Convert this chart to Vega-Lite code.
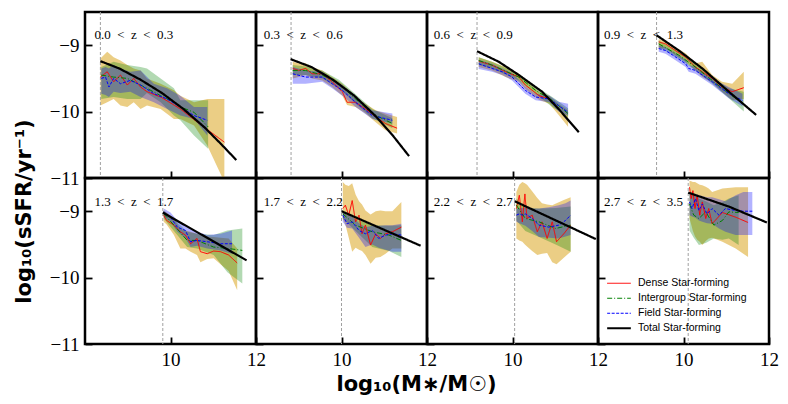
{
  "$schema": "https://vega.github.io/schema/vega-lite/v6.json",
  "padding": {"left": 11, "top": 10, "right": 5, "bottom": 2},
  "config": {
    "view": {"stroke": "black", "strokeWidth": 2.5},
    "axis": {
      "domain": false, "grid": false, "ticks": true, "zindex": 1, "offset": -7, "tickSize": 7, "tickWidth": 1.8, "tickColor": "black",
      "labelFont": "Liberation Serif", "labelFontSize": 19, "labelColor": "black", "labelPadding": 6,
      "labelFlush": false, "labelOverlap": false, "format": "d",
      "titleFont": "DejaVu Sans", "titleFontSize": 21, "titleFontWeight": "bold", "titleColor": "black"
    },
    "legend": {
      "orient": "bottom-left", "offset": 8, "padding": 0, "labelFont": "Liberation Sans", "labelFontSize": 10.5,
      "labelColor": "black", "symbolType": "stroke", "symbolSize": 560, "clipHeight": 14.5, "rowPadding": 0, "labelOffset": 6
    }
  },
  "datasets": {
    "m": [
      {"p": 1, "cut": 8.36, "lx": 8.22, "ly": -8.85, "label": "0.0\u2002<\u2002z\u2002<\u20020.3"},
      {"p": 2, "cut": 8.82, "lx": 8.18, "ly": -8.85, "label": "0.3\u2002<\u2002z\u2002<\u20020.6"},
      {"p": 3, "cut": 9.17, "lx": 8.16, "ly": -8.85, "label": "0.6\u2002<\u2002z\u2002<\u20020.9"},
      {"p": 4, "cut": 9.37, "lx": 8.14, "ly": -8.85, "label": "0.9\u2002<\u2002z\u2002<\u20021.3"},
      {"p": 5, "cut": 9.82, "lx": 8.22, "ly": -8.86, "label": "1.3\u2002<\u2002z\u2002<\u20021.7"},
      {"p": 6, "cut": 10.0, "lx": 8.18, "ly": -8.86, "label": "1.7\u2002<\u2002z\u2002<\u20022.2"},
      {"p": 7, "cut": 10.05, "lx": 8.16, "ly": -8.86, "label": "2.2\u2002<\u2002z\u2002<\u20022.7"},
      {"p": 8, "cut": 10.11, "lx": 8.14, "ly": -8.86, "label": "2.7\u2002<\u2002z\u2002<\u20023.5"}
    ],
    "d": [
      {"p":1,"s":"Dense","x":8.36,"y":-9.48,"lo":-9.91,"hi":-9.20},
      {"p":1,"s":"Dense","x":8.52,"y":-9.40,"lo":-9.86,"hi":-9.10},
      {"p":1,"s":"Dense","x":8.67,"y":-9.55,"lo":-9.81,"hi":-9.18},
      {"p":1,"s":"Dense","x":8.83,"y":-9.45,"lo":-9.91,"hi":-9.23},
      {"p":1,"s":"Dense","x":8.99,"y":-9.60,"lo":-9.93,"hi":-9.30},
      {"p":1,"s":"Dense","x":9.14,"y":-9.50,"lo":-9.86,"hi":-9.35},
      {"p":1,"s":"Dense","x":9.30,"y":-9.63,"lo":-9.96,"hi":-9.38},
      {"p":1,"s":"Dense","x":9.45,"y":-9.70,"lo":-9.91,"hi":-9.50},
      {"p":1,"s":"Dense","x":9.77,"y":-9.78,"lo":-9.96,"hi":-9.58},
      {"p":1,"s":"Dense","x":10.08,"y":-9.90,"lo":-10.11,"hi":-9.68},
      {"p":1,"s":"Dense","x":10.23,"y":-9.96,"lo":-10.11,"hi":-9.76},
      {"p":1,"s":"Dense","x":10.55,"y":-10.12,"lo":-10.21,"hi":-9.86},
      {"p":1,"s":"Dense","x":10.86,"y":-10.27,"lo":-10.51,"hi":-9.81},
      {"p":1,"s":"Dense","x":11.26,"y":-10.46,"lo":-11.06,"hi":-9.81},
      {"p":1,"s":"Intergroup","x":8.38,"y":-9.45,"lo":-9.81,"hi":-9.33},
      {"p":1,"s":"Intergroup","x":8.67,"y":-9.48,"lo":-9.78,"hi":-9.25},
      {"p":1,"s":"Intergroup","x":8.99,"y":-9.50,"lo":-9.81,"hi":-9.30},
      {"p":1,"s":"Intergroup","x":9.30,"y":-9.60,"lo":-9.81,"hi":-9.33},
      {"p":1,"s":"Intergroup","x":9.45,"y":-9.65,"lo":-9.72,"hi":-9.35},
      {"p":1,"s":"Intergroup","x":9.77,"y":-9.76,"lo":-9.86,"hi":-9.50},
      {"p":1,"s":"Intergroup","x":10.08,"y":-9.86,"lo":-10.06,"hi":-9.65},
      {"p":1,"s":"Intergroup","x":10.23,"y":-9.93,"lo":-10.13,"hi":-9.83},
      {"p":1,"s":"Intergroup","x":10.55,"y":-10.01,"lo":-10.36,"hi":-9.83},
      {"p":1,"s":"Intergroup","x":10.88,"y":-10.23,"lo":-10.56,"hi":-9.83},
      {"p":1,"s":"Field","x":8.38,"y":-9.50,"lo":-9.73,"hi":-9.35},
      {"p":1,"s":"Field","x":8.48,"y":-9.48,"lo":-9.75,"hi":-9.33},
      {"p":1,"s":"Field","x":8.56,"y":-9.63,"lo":-9.78,"hi":-9.35},
      {"p":1,"s":"Field","x":8.67,"y":-9.50,"lo":-9.70,"hi":-9.30},
      {"p":1,"s":"Field","x":8.83,"y":-9.58,"lo":-9.72,"hi":-9.35},
      {"p":1,"s":"Field","x":9.06,"y":-9.53,"lo":-9.70,"hi":-9.40},
      {"p":1,"s":"Field","x":9.30,"y":-9.60,"lo":-9.78,"hi":-9.38},
      {"p":1,"s":"Field","x":9.61,"y":-9.73,"lo":-9.86,"hi":-9.58},
      {"p":1,"s":"Field","x":9.92,"y":-9.81,"lo":-9.96,"hi":-9.65},
      {"p":1,"s":"Field","x":10.23,"y":-9.93,"lo":-10.06,"hi":-9.76},
      {"p":1,"s":"Field","x":10.55,"y":-10.06,"lo":-10.11,"hi":-9.93},
      {"p":1,"s":"Field","x":10.86,"y":-10.13,"lo":-10.36,"hi":-9.93},
      {"p":1,"s":"Total","x":8.36,"y":-9.24},
      {"p":1,"s":"Total","x":8.8,"y":-9.35},
      {"p":1,"s":"Total","x":9.3,"y":-9.52},
      {"p":1,"s":"Total","x":9.8,"y":-9.72},
      {"p":1,"s":"Total","x":10.3,"y":-9.96},
      {"p":1,"s":"Total","x":10.8,"y":-10.24},
      {"p":1,"s":"Total","x":11.2,"y":-10.50},
      {"p":1,"s":"Total","x":11.54,"y":-10.73},

      {"p":2,"s":"Dense","x":8.86,"y":-9.35,"lo":-9.50,"hi":-9.25},
      {"p":2,"s":"Dense","x":9.00,"y":-9.38,"lo":-9.48,"hi":-9.27},
      {"p":2,"s":"Dense","x":9.16,"y":-9.35,"lo":-9.45,"hi":-9.27},
      {"p":2,"s":"Dense","x":9.31,"y":-9.43,"lo":-9.50,"hi":-9.33},
      {"p":2,"s":"Dense","x":9.55,"y":-9.43,"lo":-9.53,"hi":-9.38},
      {"p":2,"s":"Dense","x":9.78,"y":-9.55,"lo":-9.63,"hi":-9.48},
      {"p":2,"s":"Dense","x":10.02,"y":-9.70,"lo":-9.76,"hi":-9.58},
      {"p":2,"s":"Dense","x":10.13,"y":-9.86,"lo":-9.90,"hi":-9.65},
      {"p":2,"s":"Dense","x":10.33,"y":-9.86,"lo":-9.93,"hi":-9.78},
      {"p":2,"s":"Dense","x":10.56,"y":-9.96,"lo":-10.03,"hi":-9.88},
      {"p":2,"s":"Dense","x":10.80,"y":-10.08,"lo":-10.16,"hi":-9.98},
      {"p":2,"s":"Dense","x":11.03,"y":-10.18,"lo":-10.28,"hi":-10.03},
      {"p":2,"s":"Dense","x":11.30,"y":-10.25,"lo":-10.33,"hi":-10.08},
      {"p":2,"s":"Intergroup","x":8.86,"y":-9.38,"lo":-9.45,"hi":-9.30},
      {"p":2,"s":"Intergroup","x":9.16,"y":-9.38,"lo":-9.45,"hi":-9.32},
      {"p":2,"s":"Intergroup","x":9.55,"y":-9.45,"lo":-9.50,"hi":-9.38},
      {"p":2,"s":"Intergroup","x":9.94,"y":-9.58,"lo":-9.65,"hi":-9.52},
      {"p":2,"s":"Intergroup","x":10.33,"y":-9.81,"lo":-9.88,"hi":-9.74},
      {"p":2,"s":"Intergroup","x":10.72,"y":-10.03,"lo":-10.10,"hi":-9.96},
      {"p":2,"s":"Intergroup","x":11.19,"y":-10.18,"lo":-10.25,"hi":-10.10},
      {"p":2,"s":"Field","x":8.86,"y":-9.43,"lo":-9.58,"hi":-9.33},
      {"p":2,"s":"Field","x":9.16,"y":-9.48,"lo":-9.58,"hi":-9.38},
      {"p":2,"s":"Field","x":9.55,"y":-9.48,"lo":-9.55,"hi":-9.40},
      {"p":2,"s":"Field","x":9.78,"y":-9.58,"lo":-9.65,"hi":-9.50},
      {"p":2,"s":"Field","x":10.02,"y":-9.68,"lo":-9.76,"hi":-9.60},
      {"p":2,"s":"Field","x":10.33,"y":-9.86,"lo":-9.93,"hi":-9.78},
      {"p":2,"s":"Field","x":10.72,"y":-10.06,"lo":-10.11,"hi":-9.98},
      {"p":2,"s":"Field","x":11.19,"y":-10.13,"lo":-10.18,"hi":-10.03},
      {"p":2,"s":"Total","x":8.81,"y":-9.21},
      {"p":2,"s":"Total","x":9.3,"y":-9.33},
      {"p":2,"s":"Total","x":9.8,"y":-9.52},
      {"p":2,"s":"Total","x":10.3,"y":-9.76},
      {"p":2,"s":"Total","x":10.8,"y":-10.07},
      {"p":2,"s":"Total","x":11.2,"y":-10.36},
      {"p":2,"s":"Total","x":11.58,"y":-10.67},

      {"p":3,"s":"Dense","x":9.21,"y":-9.24,"lo":-9.33,"hi":-9.18},
      {"p":3,"s":"Dense","x":9.52,"y":-9.30,"lo":-9.38,"hi":-9.25},
      {"p":3,"s":"Dense","x":9.84,"y":-9.40,"lo":-9.48,"hi":-9.33},
      {"p":3,"s":"Dense","x":10.15,"y":-9.48,"lo":-9.55,"hi":-9.43},
      {"p":3,"s":"Dense","x":10.30,"y":-9.60,"lo":-9.66,"hi":-9.52},
      {"p":3,"s":"Dense","x":10.62,"y":-9.76,"lo":-9.82,"hi":-9.70},
      {"p":3,"s":"Dense","x":10.86,"y":-9.81,"lo":-9.88,"hi":-9.76},
      {"p":3,"s":"Dense","x":11.08,"y":-9.96,"lo":-10.05,"hi":-9.88},
      {"p":3,"s":"Dense","x":11.30,"y":-10.13,"lo":-10.23,"hi":-9.98},
      {"p":3,"s":"Intergroup","x":9.21,"y":-9.23,"lo":-9.30,"hi":-9.18},
      {"p":3,"s":"Intergroup","x":9.52,"y":-9.30,"lo":-9.35,"hi":-9.25},
      {"p":3,"s":"Intergroup","x":10.15,"y":-9.48,"lo":-9.53,"hi":-9.43},
      {"p":3,"s":"Intergroup","x":10.54,"y":-9.68,"lo":-9.73,"hi":-9.62},
      {"p":3,"s":"Intergroup","x":10.93,"y":-9.83,"lo":-9.93,"hi":-9.78},
      {"p":3,"s":"Intergroup","x":11.30,"y":-10.03,"lo":-10.08,"hi":-9.95},
      {"p":3,"s":"Field","x":9.21,"y":-9.28,"lo":-9.36,"hi":-9.22},
      {"p":3,"s":"Field","x":9.52,"y":-9.35,"lo":-9.40,"hi":-9.28},
      {"p":3,"s":"Field","x":9.76,"y":-9.40,"lo":-9.45,"hi":-9.35},
      {"p":3,"s":"Field","x":9.99,"y":-9.48,"lo":-9.53,"hi":-9.42},
      {"p":3,"s":"Field","x":10.30,"y":-9.68,"lo":-9.73,"hi":-9.62},
      {"p":3,"s":"Field","x":10.54,"y":-9.78,"lo":-9.83,"hi":-9.73},
      {"p":3,"s":"Field","x":10.86,"y":-9.81,"lo":-9.86,"hi":-9.76},
      {"p":3,"s":"Field","x":11.08,"y":-9.91,"lo":-10.00,"hi":-9.85},
      {"p":3,"s":"Field","x":11.30,"y":-10.01,"lo":-10.06,"hi":-9.88},
      {"p":3,"s":"Total","x":9.17,"y":-9.09},
      {"p":3,"s":"Total","x":9.68,"y":-9.25},
      {"p":3,"s":"Total","x":10.15,"y":-9.45},
      {"p":3,"s":"Total","x":10.69,"y":-9.70},
      {"p":3,"s":"Total","x":11.08,"y":-9.96},
      {"p":3,"s":"Total","x":11.55,"y":-10.31},

      {"p":4,"s":"Dense","x":9.42,"y":-8.95,"lo":-9.05,"hi":-8.91},
      {"p":4,"s":"Dense","x":9.58,"y":-8.98,"lo":-9.05,"hi":-8.93},
      {"p":4,"s":"Dense","x":9.81,"y":-9.08,"lo":-9.15,"hi":-9.03},
      {"p":4,"s":"Dense","x":10.05,"y":-9.18,"lo":-9.25,"hi":-9.12},
      {"p":4,"s":"Dense","x":10.28,"y":-9.33,"lo":-9.38,"hi":-9.27},
      {"p":4,"s":"Dense","x":10.44,"y":-9.40,"lo":-9.48,"hi":-9.25},
      {"p":4,"s":"Dense","x":10.67,"y":-9.50,"lo":-9.56,"hi":-9.45},
      {"p":4,"s":"Dense","x":10.90,"y":-9.63,"lo":-9.70,"hi":-9.55},
      {"p":4,"s":"Dense","x":11.14,"y":-9.70,"lo":-9.83,"hi":-9.58},
      {"p":4,"s":"Dense","x":11.41,"y":-9.64,"lo":-9.81,"hi":-9.40},
      {"p":4,"s":"Intergroup","x":9.42,"y":-8.98,"lo":-9.03,"hi":-8.93},
      {"p":4,"s":"Intergroup","x":9.89,"y":-9.15,"lo":-9.20,"hi":-9.10},
      {"p":4,"s":"Intergroup","x":10.28,"y":-9.33,"lo":-9.38,"hi":-9.28},
      {"p":4,"s":"Intergroup","x":10.67,"y":-9.53,"lo":-9.58,"hi":-9.48},
      {"p":4,"s":"Intergroup","x":11.06,"y":-9.73,"lo":-9.80,"hi":-9.65},
      {"p":4,"s":"Intergroup","x":11.41,"y":-9.88,"lo":-10.00,"hi":-9.70},
      {"p":4,"s":"Field","x":9.42,"y":-9.05,"lo":-9.10,"hi":-9.00},
      {"p":4,"s":"Field","x":9.58,"y":-9.08,"lo":-9.13,"hi":-9.03},
      {"p":4,"s":"Field","x":9.75,"y":-9.15,"lo":-9.20,"hi":-9.10},
      {"p":4,"s":"Field","x":10.05,"y":-9.28,"lo":-9.33,"hi":-9.22},
      {"p":4,"s":"Field","x":10.12,"y":-9.35,"lo":-9.40,"hi":-9.30},
      {"p":4,"s":"Field","x":10.28,"y":-9.38,"lo":-9.43,"hi":-9.33},
      {"p":4,"s":"Field","x":10.67,"y":-9.55,"lo":-9.60,"hi":-9.50},
      {"p":4,"s":"Field","x":11.06,"y":-9.73,"lo":-9.80,"hi":-9.63},
      {"p":4,"s":"Field","x":11.38,"y":-9.83,"lo":-9.92,"hi":-9.73},
      {"p":4,"s":"Total","x":9.37,"y":-8.85},
      {"p":4,"s":"Total","x":9.89,"y":-9.08},
      {"p":4,"s":"Total","x":10.44,"y":-9.35},
      {"p":4,"s":"Total","x":11.06,"y":-9.70},
      {"p":4,"s":"Total","x":11.70,"y":-10.05},

      {"p":5,"s":"Dense","x":9.84,"y":-9.06,"lo":-9.16,"hi":-8.99},
      {"p":5,"s":"Dense","x":9.91,"y":-9.14,"lo":-9.20,"hi":-9.02},
      {"p":5,"s":"Dense","x":10.08,"y":-9.21,"lo":-9.36,"hi":-9.11},
      {"p":5,"s":"Dense","x":10.23,"y":-9.31,"lo":-9.56,"hi":-9.26},
      {"p":5,"s":"Dense","x":10.35,"y":-9.36,"lo":-9.56,"hi":-9.29},
      {"p":5,"s":"Dense","x":10.47,"y":-9.49,"lo":-9.61,"hi":-9.31},
      {"p":5,"s":"Dense","x":10.62,"y":-9.41,"lo":-9.66,"hi":-9.34},
      {"p":5,"s":"Dense","x":10.70,"y":-9.61,"lo":-9.77,"hi":-9.36},
      {"p":5,"s":"Dense","x":10.86,"y":-9.64,"lo":-9.72,"hi":-9.38},
      {"p":5,"s":"Dense","x":11.01,"y":-9.60,"lo":-9.71,"hi":-9.39},
      {"p":5,"s":"Dense","x":11.17,"y":-9.61,"lo":-9.80,"hi":-9.40},
      {"p":5,"s":"Dense","x":11.36,"y":-9.66,"lo":-9.90,"hi":-9.41},
      {"p":5,"s":"Dense","x":11.56,"y":-9.78,"lo":-10.19,"hi":-9.56},
      {"p":5,"s":"Intergroup","x":9.84,"y":-9.04,"lo":-9.11,"hi":-8.99},
      {"p":5,"s":"Intergroup","x":10.08,"y":-9.21,"lo":-9.30,"hi":-9.12},
      {"p":5,"s":"Intergroup","x":10.39,"y":-9.44,"lo":-9.54,"hi":-9.31},
      {"p":5,"s":"Intergroup","x":10.62,"y":-9.44,"lo":-9.56,"hi":-9.34},
      {"p":5,"s":"Intergroup","x":11.01,"y":-9.54,"lo":-9.66,"hi":-9.36},
      {"p":5,"s":"Intergroup","x":11.33,"y":-9.56,"lo":-9.92,"hi":-9.29},
      {"p":5,"s":"Intergroup","x":11.68,"y":-9.59,"lo":-10.09,"hi":-9.26},
      {"p":5,"s":"Field","x":9.84,"y":-9.01,"lo":-9.09,"hi":-8.96},
      {"p":5,"s":"Field","x":10.00,"y":-9.09,"lo":-9.16,"hi":-9.02},
      {"p":5,"s":"Field","x":10.16,"y":-9.24,"lo":-9.31,"hi":-9.14},
      {"p":5,"s":"Field","x":10.35,"y":-9.29,"lo":-9.41,"hi":-9.21},
      {"p":5,"s":"Field","x":10.47,"y":-9.46,"lo":-9.54,"hi":-9.26},
      {"p":5,"s":"Field","x":10.62,"y":-9.44,"lo":-9.52,"hi":-9.31},
      {"p":5,"s":"Field","x":10.86,"y":-9.46,"lo":-9.56,"hi":-9.36},
      {"p":5,"s":"Field","x":11.17,"y":-9.49,"lo":-9.59,"hi":-9.34},
      {"p":5,"s":"Field","x":11.44,"y":-9.49,"lo":-9.64,"hi":-9.29},
      {"p":5,"s":"Total","x":9.82,"y":-9.02},
      {"p":5,"s":"Total","x":11.78,"y":-9.74},

      {"p":6,"s":"Dense","x":10.03,"y":-8.96,"lo":-9.11,"hi":-8.56},
      {"p":6,"s":"Dense","x":10.09,"y":-8.91,"lo":-9.20,"hi":-8.60},
      {"p":6,"s":"Dense","x":10.17,"y":-9.06,"lo":-9.40,"hi":-8.62},
      {"p":6,"s":"Dense","x":10.25,"y":-8.84,"lo":-9.61,"hi":-8.58},
      {"p":6,"s":"Dense","x":10.33,"y":-9.16,"lo":-9.55,"hi":-8.75},
      {"p":6,"s":"Dense","x":10.41,"y":-9.06,"lo":-9.58,"hi":-8.85},
      {"p":6,"s":"Dense","x":10.48,"y":-9.34,"lo":-9.60,"hi":-8.90},
      {"p":6,"s":"Dense","x":10.56,"y":-9.21,"lo":-9.66,"hi":-8.99},
      {"p":6,"s":"Dense","x":10.68,"y":-9.51,"lo":-9.79,"hi":-9.05},
      {"p":6,"s":"Dense","x":10.80,"y":-9.34,"lo":-9.70,"hi":-9.00},
      {"p":6,"s":"Dense","x":10.91,"y":-9.41,"lo":-9.69,"hi":-8.99},
      {"p":6,"s":"Dense","x":11.03,"y":-9.34,"lo":-9.64,"hi":-9.00},
      {"p":6,"s":"Dense","x":11.19,"y":-9.31,"lo":-9.56,"hi":-9.00},
      {"p":6,"s":"Dense","x":11.40,"y":-9.24,"lo":-9.56,"hi":-8.86},
      {"p":6,"s":"Intergroup","x":10.03,"y":-9.04,"lo":-9.11,"hi":-8.99},
      {"p":6,"s":"Intergroup","x":10.33,"y":-9.21,"lo":-9.30,"hi":-9.12},
      {"p":6,"s":"Intergroup","x":10.72,"y":-9.31,"lo":-9.54,"hi":-9.21},
      {"p":6,"s":"Intergroup","x":11.11,"y":-9.36,"lo":-9.60,"hi":-9.22},
      {"p":6,"s":"Intergroup","x":11.40,"y":-9.44,"lo":-9.69,"hi":-9.21},
      {"p":6,"s":"Field","x":10.03,"y":-9.06,"lo":-9.16,"hi":-8.99},
      {"p":6,"s":"Field","x":10.13,"y":-9.19,"lo":-9.25,"hi":-9.06},
      {"p":6,"s":"Field","x":10.25,"y":-9.16,"lo":-9.26,"hi":-9.08},
      {"p":6,"s":"Field","x":10.41,"y":-9.29,"lo":-9.40,"hi":-9.18},
      {"p":6,"s":"Field","x":10.56,"y":-9.34,"lo":-9.54,"hi":-9.24},
      {"p":6,"s":"Field","x":10.72,"y":-9.29,"lo":-9.50,"hi":-9.22},
      {"p":6,"s":"Field","x":10.87,"y":-9.41,"lo":-9.55,"hi":-9.22},
      {"p":6,"s":"Field","x":11.03,"y":-9.36,"lo":-9.58,"hi":-9.21},
      {"p":6,"s":"Field","x":11.19,"y":-9.34,"lo":-9.61,"hi":-9.21},
      {"p":6,"s":"Field","x":11.40,"y":-9.36,"lo":-9.61,"hi":-9.19},
      {"p":6,"s":"Total","x":10.0,"y":-9.0},
      {"p":6,"s":"Total","x":11.85,"y":-9.52},

      {"p":7,"s":"Dense","x":10.09,"y":-8.96,"lo":-9.41,"hi":-8.71},
      {"p":7,"s":"Dense","x":10.16,"y":-8.76,"lo":-9.44,"hi":-8.60},
      {"p":7,"s":"Dense","x":10.23,"y":-9.16,"lo":-9.46,"hi":-8.56},
      {"p":7,"s":"Dense","x":10.29,"y":-8.74,"lo":-9.50,"hi":-8.58},
      {"p":7,"s":"Dense","x":10.34,"y":-9.11,"lo":-9.53,"hi":-8.60},
      {"p":7,"s":"Dense","x":10.46,"y":-9.06,"lo":-9.60,"hi":-8.70},
      {"p":7,"s":"Dense","x":10.58,"y":-9.31,"lo":-9.66,"hi":-8.80},
      {"p":7,"s":"Dense","x":10.69,"y":-9.16,"lo":-9.64,"hi":-8.88},
      {"p":7,"s":"Dense","x":10.81,"y":-9.41,"lo":-9.63,"hi":-8.90},
      {"p":7,"s":"Dense","x":10.93,"y":-9.16,"lo":-9.77,"hi":-8.91},
      {"p":7,"s":"Dense","x":11.03,"y":-9.46,"lo":-9.80,"hi":-8.88},
      {"p":7,"s":"Dense","x":11.20,"y":-9.34,"lo":-9.70,"hi":-8.83},
      {"p":7,"s":"Dense","x":11.36,"y":-9.21,"lo":-9.61,"hi":-8.79},
      {"p":7,"s":"Intergroup","x":10.09,"y":-8.91,"lo":-9.14,"hi":-8.81},
      {"p":7,"s":"Intergroup","x":10.30,"y":-9.11,"lo":-9.30,"hi":-8.95},
      {"p":7,"s":"Intergroup","x":10.62,"y":-9.16,"lo":-9.39,"hi":-8.96},
      {"p":7,"s":"Intergroup","x":11.01,"y":-9.26,"lo":-9.50,"hi":-8.95},
      {"p":7,"s":"Intergroup","x":11.36,"y":-9.21,"lo":-9.61,"hi":-8.93},
      {"p":7,"s":"Field","x":10.09,"y":-9.06,"lo":-9.16,"hi":-8.96},
      {"p":7,"s":"Field","x":10.16,"y":-9.04,"lo":-9.18,"hi":-8.95},
      {"p":7,"s":"Field","x":10.23,"y":-9.06,"lo":-9.20,"hi":-8.95},
      {"p":7,"s":"Field","x":10.30,"y":-9.04,"lo":-9.22,"hi":-8.94},
      {"p":7,"s":"Field","x":10.46,"y":-9.11,"lo":-9.30,"hi":-8.96},
      {"p":7,"s":"Field","x":10.62,"y":-9.21,"lo":-9.39,"hi":-8.96},
      {"p":7,"s":"Field","x":10.85,"y":-9.24,"lo":-9.40,"hi":-8.94},
      {"p":7,"s":"Field","x":11.08,"y":-9.21,"lo":-9.41,"hi":-8.91},
      {"p":7,"s":"Field","x":11.24,"y":-9.14,"lo":-9.38,"hi":-8.88},
      {"p":7,"s":"Field","x":11.36,"y":-9.06,"lo":-9.36,"hi":-8.84},
      {"p":7,"s":"Total","x":10.05,"y":-8.85},
      {"p":7,"s":"Total","x":11.95,"y":-9.42},

      {"p":8,"s":"Dense","x":10.14,"y":-8.64,"lo":-9.11,"hi":-8.54},
      {"p":8,"s":"Dense","x":10.18,"y":-8.81,"lo":-9.20,"hi":-8.55},
      {"p":8,"s":"Dense","x":10.22,"y":-8.69,"lo":-9.30,"hi":-8.56},
      {"p":8,"s":"Dense","x":10.27,"y":-8.96,"lo":-9.38,"hi":-8.56},
      {"p":8,"s":"Dense","x":10.32,"y":-8.76,"lo":-9.43,"hi":-8.58},
      {"p":8,"s":"Dense","x":10.38,"y":-9.06,"lo":-9.46,"hi":-8.60},
      {"p":8,"s":"Dense","x":10.44,"y":-8.86,"lo":-9.51,"hi":-8.61},
      {"p":8,"s":"Dense","x":10.52,"y":-9.11,"lo":-9.45,"hi":-8.63},
      {"p":8,"s":"Dense","x":10.59,"y":-8.96,"lo":-9.41,"hi":-8.66},
      {"p":8,"s":"Dense","x":10.67,"y":-9.19,"lo":-9.40,"hi":-8.71},
      {"p":8,"s":"Dense","x":10.91,"y":-9.02,"lo":-9.46,"hi":-8.66},
      {"p":8,"s":"Dense","x":11.22,"y":-9.09,"lo":-9.56,"hi":-8.64},
      {"p":8,"s":"Dense","x":11.51,"y":-9.17,"lo":-9.69,"hi":-8.64},
      {"p":8,"s":"Intergroup","x":10.14,"y":-8.89,"lo":-9.29,"hi":-8.71},
      {"p":8,"s":"Intergroup","x":10.24,"y":-9.06,"lo":-9.40,"hi":-8.76},
      {"p":8,"s":"Intergroup","x":10.36,"y":-9.11,"lo":-9.51,"hi":-8.81},
      {"p":8,"s":"Intergroup","x":10.52,"y":-9.01,"lo":-9.48,"hi":-8.85},
      {"p":8,"s":"Intergroup","x":10.71,"y":-9.21,"lo":-9.41,"hi":-8.91},
      {"p":8,"s":"Intergroup","x":10.91,"y":-9.14,"lo":-9.43,"hi":-8.86},
      {"p":8,"s":"Intergroup","x":11.06,"y":-9.01,"lo":-9.41,"hi":-8.81},
      {"p":8,"s":"Intergroup","x":11.29,"y":-9.02,"lo":-9.51,"hi":-8.76},
      {"p":8,"s":"Field","x":10.14,"y":-8.86,"lo":-9.06,"hi":-8.71},
      {"p":8,"s":"Field","x":10.20,"y":-8.96,"lo":-9.08,"hi":-8.73},
      {"p":8,"s":"Field","x":10.28,"y":-8.81,"lo":-9.10,"hi":-8.74},
      {"p":8,"s":"Field","x":10.36,"y":-8.99,"lo":-9.14,"hi":-8.76},
      {"p":8,"s":"Field","x":10.44,"y":-8.89,"lo":-9.16,"hi":-8.77},
      {"p":8,"s":"Field","x":10.55,"y":-9.04,"lo":-9.18,"hi":-8.79},
      {"p":8,"s":"Field","x":10.67,"y":-8.96,"lo":-9.19,"hi":-8.79},
      {"p":8,"s":"Field","x":10.83,"y":-9.06,"lo":-9.26,"hi":-8.82},
      {"p":8,"s":"Field","x":10.98,"y":-8.96,"lo":-9.31,"hi":-8.85},
      {"p":8,"s":"Field","x":11.22,"y":-8.99,"lo":-9.36,"hi":-8.76},
      {"p":8,"s":"Field","x":11.40,"y":-9.00,"lo":-9.36,"hi":-8.71},
      {"p":8,"s":"Field","x":11.61,"y":-9.00,"lo":-9.36,"hi":-8.71},
      {"p":8,"s":"Total","x":10.11,"y":-8.72},
      {"p":8,"s":"Total","x":11.06,"y":-8.93},
      {"p":8,"s":"Total","x":11.95,"y":-9.17}
    ]
  },
  "columns": 4,
  "spacing": 0,
  "bounds": "flush",
  "resolve": {
    "scale": {"x": "independent", "y": "independent", "color": "independent", "strokeDash": "independent", "strokeWidth": "independent"},
    "axis": {"x": "independent", "y": "independent"},
    "legend": {"color": "independent", "strokeDash": "independent", "strokeWidth": "independent"}
  },
  "concat": [
    {
      "width": 171, "height": 166,
      "layer": [
        {"data": {"name": "d"}, "transform": [{"filter": "datum.p == 1 && datum.s == 'Dense'"}], "mark": {"type": "area", "color": "#daa520", "opacity": 0.55, "clip": true},
         "encoding": {
           "x": {"field": "x", "type": "quantitative", "scale": {"domain": [8, 12], "nice": false, "zero": false}, "axis": {"values": [10, 12], "labels": false, "title": null}},
           "y": {"field": "lo", "type": "quantitative", "scale": {"domain": [-11, -8.5], "nice": false, "zero": false}, "axis": {"values": [-11, -10, -9], "title": "log₁₀(sSFR/yr⁻¹)", "titleX": -68, "titleY": 199, "titleAngle": 270, "titleBaseline": "middle", "titleAlign": "center"}},
           "y2": {"field": "hi"}}},
        {"data": {"name": "d"}, "transform": [{"filter": "datum.p == 1 && datum.s == 'Intergroup'"}], "mark": {"type": "area", "color": "#008000", "opacity": 0.3, "clip": true},
         "encoding": {"x": {"field": "x", "type": "quantitative"}, "y": {"field": "lo", "type": "quantitative"}, "y2": {"field": "hi"}}},
        {"data": {"name": "d"}, "transform": [{"filter": "datum.p == 1 && datum.s == 'Field'"}], "mark": {"type": "area", "color": "#0000ff", "opacity": 0.3, "clip": true},
         "encoding": {"x": {"field": "x", "type": "quantitative"}, "y": {"field": "lo", "type": "quantitative"}, "y2": {"field": "hi"}}},
        {"data": {"name": "m"}, "transform": [{"filter": "datum.p == 1"}], "mark": {"type": "rule", "color": "#a0a0a0", "strokeDash": [3, 2], "strokeWidth": 1}, "encoding": {"x": {"field": "cut", "type": "quantitative"}}},
        {"data": {"name": "d"}, "transform": [{"filter": "datum.p == 1"}], "mark": {"type": "line", "clip": true},
         "encoding": {
           "x": {"field": "x", "type": "quantitative"}, "y": {"field": "y", "type": "quantitative"},
           "color": {"field": "s", "type": "nominal", "scale": {"domain": ["Dense", "Intergroup", "Field", "Total"], "range": ["#ff0000", "#008000", "#0000ff", "#000000"]}, "legend": null},
           "strokeDash": {"field": "s", "type": "nominal", "scale": {"domain": ["Dense", "Intergroup", "Field", "Total"], "range": [[1, 0], [5, 2, 1, 2], [3, 1.5], [1, 0]]}, "legend": null},
           "strokeWidth": {"field": "s", "type": "nominal", "scale": {"type": "ordinal", "domain": ["Dense", "Intergroup", "Field", "Total"], "range": [1, 1, 1, 2.2]}, "legend": null}}},
        {"data": {"name": "m"}, "transform": [{"filter": "datum.p == 1"}], "mark": {"type": "text", "align": "left", "baseline": "middle", "font": "Liberation Serif", "fontSize": 13, "color": "black"},
         "encoding": {"x": {"field": "lx", "type": "quantitative"}, "y": {"field": "ly", "type": "quantitative"}, "text": {"field": "label"}}}
      ]
    },
    {
      "width": 171, "height": 166,
      "layer": [
        {"data": {"name": "d"}, "transform": [{"filter": "datum.p == 2 && datum.s == 'Dense'"}], "mark": {"type": "area", "color": "#daa520", "opacity": 0.55, "clip": true},
         "encoding": {
           "x": {"field": "x", "type": "quantitative", "scale": {"domain": [8, 12], "nice": false, "zero": false}, "axis": {"values": [10, 12], "labels": false, "title": null}},
           "y": {"field": "lo", "type": "quantitative", "scale": {"domain": [-11, -8.5], "nice": false, "zero": false}, "axis": {"values": [-11, -10, -9], "labels": false, "title": null}},
           "y2": {"field": "hi"}}},
        {"data": {"name": "d"}, "transform": [{"filter": "datum.p == 2 && datum.s == 'Intergroup'"}], "mark": {"type": "area", "color": "#008000", "opacity": 0.3, "clip": true},
         "encoding": {"x": {"field": "x", "type": "quantitative"}, "y": {"field": "lo", "type": "quantitative"}, "y2": {"field": "hi"}}},
        {"data": {"name": "d"}, "transform": [{"filter": "datum.p == 2 && datum.s == 'Field'"}], "mark": {"type": "area", "color": "#0000ff", "opacity": 0.3, "clip": true},
         "encoding": {"x": {"field": "x", "type": "quantitative"}, "y": {"field": "lo", "type": "quantitative"}, "y2": {"field": "hi"}}},
        {"data": {"name": "m"}, "transform": [{"filter": "datum.p == 2"}], "mark": {"type": "rule", "color": "#a0a0a0", "strokeDash": [3, 2], "strokeWidth": 1}, "encoding": {"x": {"field": "cut", "type": "quantitative"}}},
        {"data": {"name": "d"}, "transform": [{"filter": "datum.p == 2"}], "mark": {"type": "line", "clip": true},
         "encoding": {
           "x": {"field": "x", "type": "quantitative"}, "y": {"field": "y", "type": "quantitative"},
           "color": {"field": "s", "type": "nominal", "scale": {"domain": ["Dense", "Intergroup", "Field", "Total"], "range": ["#ff0000", "#008000", "#0000ff", "#000000"]}, "legend": null},
           "strokeDash": {"field": "s", "type": "nominal", "scale": {"domain": ["Dense", "Intergroup", "Field", "Total"], "range": [[1, 0], [5, 2, 1, 2], [3, 1.5], [1, 0]]}, "legend": null},
           "strokeWidth": {"field": "s", "type": "nominal", "scale": {"type": "ordinal", "domain": ["Dense", "Intergroup", "Field", "Total"], "range": [1, 1, 1, 2.2]}, "legend": null}}},
        {"data": {"name": "m"}, "transform": [{"filter": "datum.p == 2"}], "mark": {"type": "text", "align": "left", "baseline": "middle", "font": "Liberation Serif", "fontSize": 13, "color": "black"},
         "encoding": {"x": {"field": "lx", "type": "quantitative"}, "y": {"field": "ly", "type": "quantitative"}, "text": {"field": "label"}}}
      ]
    },
    {
      "width": 171, "height": 166,
      "layer": [
        {"data": {"name": "d"}, "transform": [{"filter": "datum.p == 3 && datum.s == 'Dense'"}], "mark": {"type": "area", "color": "#daa520", "opacity": 0.55, "clip": true},
         "encoding": {
           "x": {"field": "x", "type": "quantitative", "scale": {"domain": [8, 12], "nice": false, "zero": false}, "axis": {"values": [10, 12], "labels": false, "title": null}},
           "y": {"field": "lo", "type": "quantitative", "scale": {"domain": [-11, -8.5], "nice": false, "zero": false}, "axis": {"values": [-11, -10, -9], "labels": false, "title": null}},
           "y2": {"field": "hi"}}},
        {"data": {"name": "d"}, "transform": [{"filter": "datum.p == 3 && datum.s == 'Intergroup'"}], "mark": {"type": "area", "color": "#008000", "opacity": 0.3, "clip": true},
         "encoding": {"x": {"field": "x", "type": "quantitative"}, "y": {"field": "lo", "type": "quantitative"}, "y2": {"field": "hi"}}},
        {"data": {"name": "d"}, "transform": [{"filter": "datum.p == 3 && datum.s == 'Field'"}], "mark": {"type": "area", "color": "#0000ff", "opacity": 0.3, "clip": true},
         "encoding": {"x": {"field": "x", "type": "quantitative"}, "y": {"field": "lo", "type": "quantitative"}, "y2": {"field": "hi"}}},
        {"data": {"name": "m"}, "transform": [{"filter": "datum.p == 3"}], "mark": {"type": "rule", "color": "#a0a0a0", "strokeDash": [3, 2], "strokeWidth": 1}, "encoding": {"x": {"field": "cut", "type": "quantitative"}}},
        {"data": {"name": "d"}, "transform": [{"filter": "datum.p == 3"}], "mark": {"type": "line", "clip": true},
         "encoding": {
           "x": {"field": "x", "type": "quantitative"}, "y": {"field": "y", "type": "quantitative"},
           "color": {"field": "s", "type": "nominal", "scale": {"domain": ["Dense", "Intergroup", "Field", "Total"], "range": ["#ff0000", "#008000", "#0000ff", "#000000"]}, "legend": null},
           "strokeDash": {"field": "s", "type": "nominal", "scale": {"domain": ["Dense", "Intergroup", "Field", "Total"], "range": [[1, 0], [5, 2, 1, 2], [3, 1.5], [1, 0]]}, "legend": null},
           "strokeWidth": {"field": "s", "type": "nominal", "scale": {"type": "ordinal", "domain": ["Dense", "Intergroup", "Field", "Total"], "range": [1, 1, 1, 2.2]}, "legend": null}}},
        {"data": {"name": "m"}, "transform": [{"filter": "datum.p == 3"}], "mark": {"type": "text", "align": "left", "baseline": "middle", "font": "Liberation Serif", "fontSize": 13, "color": "black"},
         "encoding": {"x": {"field": "lx", "type": "quantitative"}, "y": {"field": "ly", "type": "quantitative"}, "text": {"field": "label"}}}
      ]
    },
    {
      "width": 171, "height": 166,
      "layer": [
        {"data": {"name": "d"}, "transform": [{"filter": "datum.p == 4 && datum.s == 'Dense'"}], "mark": {"type": "area", "color": "#daa520", "opacity": 0.55, "clip": true},
         "encoding": {
           "x": {"field": "x", "type": "quantitative", "scale": {"domain": [8, 12], "nice": false, "zero": false}, "axis": {"values": [10, 12], "labels": false, "title": null}},
           "y": {"field": "lo", "type": "quantitative", "scale": {"domain": [-11, -8.5], "nice": false, "zero": false}, "axis": {"values": [-11, -10, -9], "labels": false, "title": null}},
           "y2": {"field": "hi"}}},
        {"data": {"name": "d"}, "transform": [{"filter": "datum.p == 4 && datum.s == 'Intergroup'"}], "mark": {"type": "area", "color": "#008000", "opacity": 0.3, "clip": true},
         "encoding": {"x": {"field": "x", "type": "quantitative"}, "y": {"field": "lo", "type": "quantitative"}, "y2": {"field": "hi"}}},
        {"data": {"name": "d"}, "transform": [{"filter": "datum.p == 4 && datum.s == 'Field'"}], "mark": {"type": "area", "color": "#0000ff", "opacity": 0.3, "clip": true},
         "encoding": {"x": {"field": "x", "type": "quantitative"}, "y": {"field": "lo", "type": "quantitative"}, "y2": {"field": "hi"}}},
        {"data": {"name": "m"}, "transform": [{"filter": "datum.p == 4"}], "mark": {"type": "rule", "color": "#a0a0a0", "strokeDash": [3, 2], "strokeWidth": 1}, "encoding": {"x": {"field": "cut", "type": "quantitative"}}},
        {"data": {"name": "d"}, "transform": [{"filter": "datum.p == 4"}], "mark": {"type": "line", "clip": true},
         "encoding": {
           "x": {"field": "x", "type": "quantitative"}, "y": {"field": "y", "type": "quantitative"},
           "color": {"field": "s", "type": "nominal", "scale": {"domain": ["Dense", "Intergroup", "Field", "Total"], "range": ["#ff0000", "#008000", "#0000ff", "#000000"]}, "legend": null},
           "strokeDash": {"field": "s", "type": "nominal", "scale": {"domain": ["Dense", "Intergroup", "Field", "Total"], "range": [[1, 0], [5, 2, 1, 2], [3, 1.5], [1, 0]]}, "legend": null},
           "strokeWidth": {"field": "s", "type": "nominal", "scale": {"type": "ordinal", "domain": ["Dense", "Intergroup", "Field", "Total"], "range": [1, 1, 1, 2.2]}, "legend": null}}},
        {"data": {"name": "m"}, "transform": [{"filter": "datum.p == 4"}], "mark": {"type": "text", "align": "left", "baseline": "middle", "font": "Liberation Serif", "fontSize": 13, "color": "black"},
         "encoding": {"x": {"field": "lx", "type": "quantitative"}, "y": {"field": "ly", "type": "quantitative"}, "text": {"field": "label"}}}
      ]
    },
    {
      "width": 171, "height": 166,
      "layer": [
        {"data": {"name": "d"}, "transform": [{"filter": "datum.p == 5 && datum.s == 'Dense'"}], "mark": {"type": "area", "color": "#daa520", "opacity": 0.55, "clip": true},
         "encoding": {
           "x": {"field": "x", "type": "quantitative", "scale": {"domain": [8, 12], "nice": false, "zero": false}, "axis": {"values": [10, 12], "title": null}},
           "y": {"field": "lo", "type": "quantitative", "scale": {"domain": [-11, -8.5], "nice": false, "zero": false}, "axis": {"values": [-11, -10, -9], "title": null}},
           "y2": {"field": "hi"}}},
        {"data": {"name": "d"}, "transform": [{"filter": "datum.p == 5 && datum.s == 'Intergroup'"}], "mark": {"type": "area", "color": "#008000", "opacity": 0.3, "clip": true},
         "encoding": {"x": {"field": "x", "type": "quantitative"}, "y": {"field": "lo", "type": "quantitative"}, "y2": {"field": "hi"}}},
        {"data": {"name": "d"}, "transform": [{"filter": "datum.p == 5 && datum.s == 'Field'"}], "mark": {"type": "area", "color": "#0000ff", "opacity": 0.3, "clip": true},
         "encoding": {"x": {"field": "x", "type": "quantitative"}, "y": {"field": "lo", "type": "quantitative"}, "y2": {"field": "hi"}}},
        {"data": {"name": "m"}, "transform": [{"filter": "datum.p == 5"}], "mark": {"type": "rule", "color": "#a0a0a0", "strokeDash": [3, 2], "strokeWidth": 1}, "encoding": {"x": {"field": "cut", "type": "quantitative"}}},
        {"data": {"name": "d"}, "transform": [{"filter": "datum.p == 5"}], "mark": {"type": "line", "clip": true},
         "encoding": {
           "x": {"field": "x", "type": "quantitative"}, "y": {"field": "y", "type": "quantitative"},
           "color": {"field": "s", "type": "nominal", "scale": {"domain": ["Dense", "Intergroup", "Field", "Total"], "range": ["#ff0000", "#008000", "#0000ff", "#000000"]}, "legend": null},
           "strokeDash": {"field": "s", "type": "nominal", "scale": {"domain": ["Dense", "Intergroup", "Field", "Total"], "range": [[1, 0], [5, 2, 1, 2], [3, 1.5], [1, 0]]}, "legend": null},
           "strokeWidth": {"field": "s", "type": "nominal", "scale": {"type": "ordinal", "domain": ["Dense", "Intergroup", "Field", "Total"], "range": [1, 1, 1, 2.2]}, "legend": null}}},
        {"data": {"name": "m"}, "transform": [{"filter": "datum.p == 5"}], "mark": {"type": "text", "align": "left", "baseline": "middle", "font": "Liberation Serif", "fontSize": 13, "color": "black"},
         "encoding": {"x": {"field": "lx", "type": "quantitative"}, "y": {"field": "ly", "type": "quantitative"}, "text": {"field": "label"}}}
      ]
    },
    {
      "width": 171, "height": 166,
      "layer": [
        {"data": {"name": "d"}, "transform": [{"filter": "datum.p == 6 && datum.s == 'Dense'"}], "mark": {"type": "area", "color": "#daa520", "opacity": 0.55, "clip": true},
         "encoding": {
           "x": {"field": "x", "type": "quantitative", "scale": {"domain": [8, 12], "nice": false, "zero": false}, "axis": {"values": [10, 12], "title": "log₁₀(M∗/M☉)", "titleX": 160}},
           "y": {"field": "lo", "type": "quantitative", "scale": {"domain": [-11, -8.5], "nice": false, "zero": false}, "axis": {"values": [-11, -10, -9], "labels": false, "title": null}},
           "y2": {"field": "hi"}}},
        {"data": {"name": "d"}, "transform": [{"filter": "datum.p == 6 && datum.s == 'Intergroup'"}], "mark": {"type": "area", "color": "#008000", "opacity": 0.3, "clip": true},
         "encoding": {"x": {"field": "x", "type": "quantitative"}, "y": {"field": "lo", "type": "quantitative"}, "y2": {"field": "hi"}}},
        {"data": {"name": "d"}, "transform": [{"filter": "datum.p == 6 && datum.s == 'Field'"}], "mark": {"type": "area", "color": "#0000ff", "opacity": 0.3, "clip": true},
         "encoding": {"x": {"field": "x", "type": "quantitative"}, "y": {"field": "lo", "type": "quantitative"}, "y2": {"field": "hi"}}},
        {"data": {"name": "m"}, "transform": [{"filter": "datum.p == 6"}], "mark": {"type": "rule", "color": "#a0a0a0", "strokeDash": [3, 2], "strokeWidth": 1}, "encoding": {"x": {"field": "cut", "type": "quantitative"}}},
        {"data": {"name": "d"}, "transform": [{"filter": "datum.p == 6"}], "mark": {"type": "line", "clip": true},
         "encoding": {
           "x": {"field": "x", "type": "quantitative"}, "y": {"field": "y", "type": "quantitative"},
           "color": {"field": "s", "type": "nominal", "scale": {"domain": ["Dense", "Intergroup", "Field", "Total"], "range": ["#ff0000", "#008000", "#0000ff", "#000000"]}, "legend": null},
           "strokeDash": {"field": "s", "type": "nominal", "scale": {"domain": ["Dense", "Intergroup", "Field", "Total"], "range": [[1, 0], [5, 2, 1, 2], [3, 1.5], [1, 0]]}, "legend": null},
           "strokeWidth": {"field": "s", "type": "nominal", "scale": {"type": "ordinal", "domain": ["Dense", "Intergroup", "Field", "Total"], "range": [1, 1, 1, 2.2]}, "legend": null}}},
        {"data": {"name": "m"}, "transform": [{"filter": "datum.p == 6"}], "mark": {"type": "text", "align": "left", "baseline": "middle", "font": "Liberation Serif", "fontSize": 13, "color": "black"},
         "encoding": {"x": {"field": "lx", "type": "quantitative"}, "y": {"field": "ly", "type": "quantitative"}, "text": {"field": "label"}}}
      ]
    },
    {
      "width": 171, "height": 166,
      "layer": [
        {"data": {"name": "d"}, "transform": [{"filter": "datum.p == 7 && datum.s == 'Dense'"}], "mark": {"type": "area", "color": "#daa520", "opacity": 0.55, "clip": true},
         "encoding": {
           "x": {"field": "x", "type": "quantitative", "scale": {"domain": [8, 12], "nice": false, "zero": false}, "axis": {"values": [10, 12], "title": null}},
           "y": {"field": "lo", "type": "quantitative", "scale": {"domain": [-11, -8.5], "nice": false, "zero": false}, "axis": {"values": [-11, -10, -9], "labels": false, "title": null}},
           "y2": {"field": "hi"}}},
        {"data": {"name": "d"}, "transform": [{"filter": "datum.p == 7 && datum.s == 'Intergroup'"}], "mark": {"type": "area", "color": "#008000", "opacity": 0.3, "clip": true},
         "encoding": {"x": {"field": "x", "type": "quantitative"}, "y": {"field": "lo", "type": "quantitative"}, "y2": {"field": "hi"}}},
        {"data": {"name": "d"}, "transform": [{"filter": "datum.p == 7 && datum.s == 'Field'"}], "mark": {"type": "area", "color": "#0000ff", "opacity": 0.3, "clip": true},
         "encoding": {"x": {"field": "x", "type": "quantitative"}, "y": {"field": "lo", "type": "quantitative"}, "y2": {"field": "hi"}}},
        {"data": {"name": "m"}, "transform": [{"filter": "datum.p == 7"}], "mark": {"type": "rule", "color": "#a0a0a0", "strokeDash": [3, 2], "strokeWidth": 1}, "encoding": {"x": {"field": "cut", "type": "quantitative"}}},
        {"data": {"name": "d"}, "transform": [{"filter": "datum.p == 7"}], "mark": {"type": "line", "clip": true},
         "encoding": {
           "x": {"field": "x", "type": "quantitative"}, "y": {"field": "y", "type": "quantitative"},
           "color": {"field": "s", "type": "nominal", "scale": {"domain": ["Dense", "Intergroup", "Field", "Total"], "range": ["#ff0000", "#008000", "#0000ff", "#000000"]}, "legend": null},
           "strokeDash": {"field": "s", "type": "nominal", "scale": {"domain": ["Dense", "Intergroup", "Field", "Total"], "range": [[1, 0], [5, 2, 1, 2], [3, 1.5], [1, 0]]}, "legend": null},
           "strokeWidth": {"field": "s", "type": "nominal", "scale": {"type": "ordinal", "domain": ["Dense", "Intergroup", "Field", "Total"], "range": [1, 1, 1, 2.2]}, "legend": null}}},
        {"data": {"name": "m"}, "transform": [{"filter": "datum.p == 7"}], "mark": {"type": "text", "align": "left", "baseline": "middle", "font": "Liberation Serif", "fontSize": 13, "color": "black"},
         "encoding": {"x": {"field": "lx", "type": "quantitative"}, "y": {"field": "ly", "type": "quantitative"}, "text": {"field": "label"}}}
      ]
    },
    {
      "width": 171, "height": 166,
      "layer": [
        {"data": {"name": "d"}, "transform": [{"filter": "datum.p == 8 && datum.s == 'Dense'"}], "mark": {"type": "area", "color": "#daa520", "opacity": 0.55, "clip": true},
         "encoding": {
           "x": {"field": "x", "type": "quantitative", "scale": {"domain": [8, 12], "nice": false, "zero": false}, "axis": {"values": [10, 12], "title": null}},
           "y": {"field": "lo", "type": "quantitative", "scale": {"domain": [-11, -8.5], "nice": false, "zero": false}, "axis": {"values": [-11, -10, -9], "labels": false, "title": null}},
           "y2": {"field": "hi"}}},
        {"data": {"name": "d"}, "transform": [{"filter": "datum.p == 8 && datum.s == 'Intergroup'"}], "mark": {"type": "area", "color": "#008000", "opacity": 0.3, "clip": true},
         "encoding": {"x": {"field": "x", "type": "quantitative"}, "y": {"field": "lo", "type": "quantitative"}, "y2": {"field": "hi"}}},
        {"data": {"name": "d"}, "transform": [{"filter": "datum.p == 8 && datum.s == 'Field'"}], "mark": {"type": "area", "color": "#0000ff", "opacity": 0.3, "clip": true},
         "encoding": {"x": {"field": "x", "type": "quantitative"}, "y": {"field": "lo", "type": "quantitative"}, "y2": {"field": "hi"}}},
        {"data": {"name": "m"}, "transform": [{"filter": "datum.p == 8"}], "mark": {"type": "rule", "color": "#a0a0a0", "strokeDash": [3, 2], "strokeWidth": 1}, "encoding": {"x": {"field": "cut", "type": "quantitative"}}},
        {"data": {"name": "d"}, "transform": [{"filter": "datum.p == 8"}], "mark": {"type": "line", "clip": true},
         "encoding": {
           "x": {"field": "x", "type": "quantitative"}, "y": {"field": "y", "type": "quantitative"},
           "color": {"field": "s", "type": "nominal", "title": null, "scale": {"domain": ["Dense", "Intergroup", "Field", "Total"], "range": ["#ff0000", "#008000", "#0000ff", "#000000"]}, "legend": {"labelExpr": "datum.label + ' Star-forming'"}},
           "strokeDash": {"field": "s", "type": "nominal", "title": null, "scale": {"domain": ["Dense", "Intergroup", "Field", "Total"], "range": [[1, 0], [5, 2, 1, 2], [3, 1.5], [1, 0]]}, "legend": {"labelExpr": "datum.label + ' Star-forming'"}},
           "strokeWidth": {"field": "s", "type": "nominal", "title": null, "scale": {"type": "ordinal", "domain": ["Dense", "Intergroup", "Field", "Total"], "range": [1, 1, 1, 2.2]}, "legend": {"labelExpr": "datum.label + ' Star-forming'"}}}},
        {"data": {"name": "m"}, "transform": [{"filter": "datum.p == 8"}], "mark": {"type": "text", "align": "left", "baseline": "middle", "font": "Liberation Serif", "fontSize": 13, "color": "black"},
         "encoding": {"x": {"field": "lx", "type": "quantitative"}, "y": {"field": "ly", "type": "quantitative"}, "text": {"field": "label"}}}
      ]
    }
  ]
}
